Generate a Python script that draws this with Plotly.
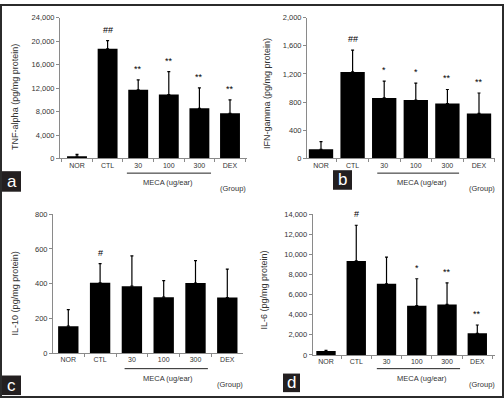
import plotly.graph_objects as go

W, H = 504, 403

categories = ["NOR", "CTL", "30", "100", "300", "DEX"]

tnf_mean = [400, 18700, 11700, 10900, 8550, 7700]
tnf_err = [300, 1400, 1700, 3900, 3500, 2300]
tnf_sig = ["", "##", "**", "**", "**", "**"]

ifn_mean = [130, 1230, 860, 830, 780, 640]
ifn_err = [110, 310, 240, 240, 200, 290]
ifn_sig = ["", "##", "*", "*", "**", "**"]

il10_mean = [155, 405, 385, 322, 403, 320]
il10_err = [95, 110, 175, 95, 130, 163]
il10_sig = ["", "#", "", "", "", ""]

il6_mean = [400, 9350, 7080, 4900, 5030, 2150]
il6_err = [60, 3550, 2650, 2680, 2150, 830]
il6_sig = ["", "#", "", "*", "**", "**"]

panel_letters = ["a", "b", "c", "d"]
y_titles = ["TNF-alpha (pg/mg protein)", "IFN-gamma (pg/mg protein)",
            "IL-10 (pg/mg protein)", "IL-6 (pg/mg protein)"]
y_max = [24000, 2000, 800, 14000]
y_dtick = [4000, 400, 200, 2000]
group_label = "MECA (ug/ear)"
group_suffix = "(Group)"

means = [tnf_mean, ifn_mean, il10_mean, il6_mean]
errs = [tnf_err, ifn_err, il10_err, il6_err]
sigs = [tnf_sig, ifn_sig, il10_sig, il6_sig]

# layout geometry (pixels)
geo = [
    dict(x0=60, x1=247, c0=77, c5=230, ytop=14, ybot=158, bw=0.65, meca=(1.63, 4.38), liney=173,
         mecaxy=(168, 183), groupxy=(233, 189), box=(2, 171, 21, 192), titlexy=(15, 95)),
    dict(x0=307, x1=495, c0=321, c5=479, ytop=14, ybot=158, bw=0.77, meca=(1.78, 4.37), liney=173,
         mecaxy=(422, 183), groupxy=(482, 189), box=(333, 170, 352, 190), titlexy=(267, 92)),
    dict(x0=53, x1=243, c0=68.3, c5=227.3, ytop=215, ybot=357, bw=0.64, meca=(1.77, 4.39), liney=373,
         mecaxy=(168, 383), groupxy=(230, 389), box=(2, 380, 21, 400), titlexy=(15, 296)),
    dict(x0=312.7, x1=495, c0=326, c5=477.3, ytop=215, ybot=359, bw=0.64, meca=(1.68, 4.43), liney=373,
         mecaxy=(422, 383), groupxy=(482, 389), box=(283, 378, 300, 397), titlexy=(264, 293)),
]

FONT = "Liberation Sans, Arial, sans-serif"
AXC = "#8a8a8a"
TXT = "#333333"

fig = go.Figure()
shapes = []
annotations = []

for i in range(4):
    g = geo[i]
    sfx = "" if i == 0 else str(i + 1)
    xa, ya = "x" + sfx, "y" + sfx
    fig.add_trace(go.Bar(
        x=categories, y=means[i], width=g["bw"], marker=dict(color="#000000", line=dict(width=0)),
        error_y=dict(type="data", array=errs[i], arrayminus=[0] * len(errs[i]), symmetric=False,
                     color="#000000", thickness=1.2, width=1.5),
        xaxis=xa, yaxis=ya, showlegend=False,
    ))
    s = (g["c5"] - g["c0"]) / 5.0
    r0 = -(g["c0"] - g["x0"]) / s
    r1 = 5 + (g["x1"] - g["c5"]) / s
    fig.layout["xaxis" + sfx] = dict(
        domain=[g["x0"] / W, g["x1"] / W], range=[r0, r1], type="category",
        anchor=ya, showline=True, linecolor=AXC, linewidth=1, ticks="outside", tickson="boundaries",
        ticklen=3, tickcolor=AXC, tickfont=dict(size=7, color=TXT, family=FONT),
        showgrid=False, zeroline=False, fixedrange=True,
    )
    fig.layout["yaxis" + sfx] = dict(
        domain=[1 - g["ybot"] / H, 1 - g["ytop"] / H], range=[0, y_max[i]], dtick=y_dtick[i],
        tickformat=",d", anchor=xa, showline=True, linecolor=AXC, linewidth=1, ticks="outside",
        ticklen=3, tickcolor=AXC, tickfont=dict(size=7.5, color=TXT, family=FONT),
        showgrid=False, zeroline=False, fixedrange=True,
    )
    # significance markers (x given as category index)
    for j, (m, e, t) in enumerate(zip(means[i], errs[i], sigs[i])):
        if t:
            annotations.append(dict(x=j, y=m + e, xref=xa, yref=ya, text=t, showarrow=False,
                                    yanchor="middle", yshift=11,
                                    font=dict(size=9, color="#000000", family=FONT)))
    # MECA bracket line
    shapes.append(dict(type="line", xref=xa, yref="paper", x0=g["meca"][0], x1=g["meca"][1],
                       y0=1 - g["liney"] / H, y1=1 - g["liney"] / H,
                       line=dict(color="#222222", width=1)))
    annotations.append(dict(x=g["mecaxy"][0] / W, y=1 - g["mecaxy"][1] / H, xref="paper", yref="paper",
                            text=group_label, showarrow=False, xanchor="center", yanchor="middle",
                            font=dict(size=7.5, color=TXT, family=FONT)))
    annotations.append(dict(x=g["groupxy"][0] / W, y=1 - g["groupxy"][1] / H, xref="paper", yref="paper",
                            text=group_suffix, showarrow=False, xanchor="center", yanchor="middle",
                            font=dict(size=7.5, color=TXT, family=FONT)))
    # y title
    annotations.append(dict(x=g["titlexy"][0] / W, y=1 - g["titlexy"][1] / H, xref="paper", yref="paper",
                            text=y_titles[i], showarrow=False, textangle=-90,
                            xanchor="center", yanchor="middle",
                            font=dict(size=9, color=TXT, family=FONT)))
    # panel letter box
    bx0, by0, bx1, by1 = g["box"]
    shapes.append(dict(type="rect", xref="paper", yref="paper", x0=bx0 / W, x1=bx1 / W,
                       y0=1 - by1 / H, y1=1 - by0 / H, fillcolor="#231f20", line=dict(width=0)))
    annotations.append(dict(x=(bx0 + bx1) / 2 / W, y=1 - (by0 + by1) / 2 / H, xref="paper", yref="paper",
                            text=panel_letters[i], showarrow=False, xanchor="center", yanchor="middle",
                            font=dict(size=17, color="#ffffff", family=FONT)))

# outer frame
shapes.append(dict(type="rect", xref="paper", yref="paper", x0=1 / W, x1=1 - 1 / W, y0=1 / H, y1=1 - 1 / H,
                   line=dict(color="#2b2b2b", width=2), fillcolor="rgba(0,0,0,0)"))

fig.update_layout(
    width=W, height=H, margin=dict(l=0, r=0, t=0, b=0, pad=0),
    paper_bgcolor="white", plot_bgcolor="white",
    shapes=shapes, annotations=annotations, bargap=0.3,
    font=dict(family=FONT, color=TXT),
)

fig.write_html("out.html", config={"displayModeBar": False},
               post_script="document.body.style.margin='0';")
